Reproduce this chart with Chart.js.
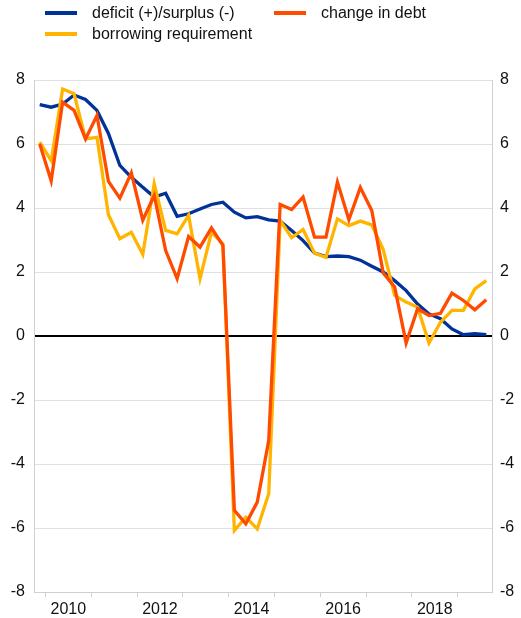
<!DOCTYPE html>
<html>
<head>
<meta charset="utf-8">
<script src="https://cdn.jsdelivr.net/npm/chart.js@4/dist/chart.umd.min.js"></script>
<style>
  html, body { margin:0; padding:0; background:#fff; }
  #wrap { position:relative; width:521px; height:618px; font-family:"Liberation Sans", Arial, sans-serif; }
  #chart { position:absolute; left:0; top:0; }
  .leg { position:absolute; font-size:16px; color:#111; white-space:nowrap; line-height:18px; }
  .leg i { position:absolute; left:-47px; top:7px; width:32px; height:4px; }
</style>
</head>
<body>
<div id="wrap">
  <canvas id="chart" width="521" height="618"></canvas>
  <div class="leg" style="left:92px;top:4px"><i style="background:#003299"></i>deficit (+)/surplus (-)</div>
  <div class="leg" style="left:321px;top:4px"><i style="background:#ff4b00"></i>change in debt</div>
  <div class="leg" style="left:92px;top:25px"><i style="background:#ffb400"></i>borrowing requirement</div>
</div>
<script>
// quarterly observations, 2009Q4 - 2019Q3
const quarters = [];
for (let y = 2009; y <= 2019; y++) {
  for (let q = 1; q <= 4; q++) {
    if ((y === 2009 && q < 4) || (y === 2019 && q > 3)) continue;
    quarters.push(y + 'Q' + q);
  }
}

const deficit = [7.23,7.15,7.25,7.53,7.39,7.05,6.33,5.33,4.96,4.65,
                 4.34,4.46,3.74,3.82,3.97,4.11,4.18,3.87,3.69,3.73,
                 3.63,3.59,3.30,2.98,2.59,2.48,2.50,2.48,2.37,2.18,
                 2.00,1.73,1.42,1.00,0.69,0.54,0.22,0.04,0.07,0.04];

const debtChange = [6.00,4.85,7.31,7.05,6.16,6.89,4.83,4.31,5.10,3.62,
                    4.39,2.67,1.79,3.11,2.78,3.38,2.83,-5.45,-5.87,-5.19,
                    -3.27,4.11,3.95,4.34,3.09,3.09,4.81,3.63,4.64,3.92,
                    1.97,1.53,-0.22,0.85,0.64,0.71,1.34,1.11,0.82,1.13];

const borrowing = [6.06,5.48,7.72,7.57,6.16,6.21,3.79,3.04,3.24,2.55,
                   4.76,3.30,3.19,3.77,1.79,3.24,2.88,-6.08,-5.66,-6.03,
                   -4.93,3.61,3.07,3.33,2.59,2.46,3.66,3.45,3.59,3.47,
                   2.70,1.27,1.06,0.90,-0.22,0.43,0.80,0.80,1.47,1.73];

const yearLabels = [2010, 2012, 2014, 2016, 2018];

// quarter -> position in years (mid-quarter)
const qx = quarters.map(s => +s.slice(0,4) + (+s.slice(5) - 0.5) / 4);
const pts = arr => arr.map((v, i) => ({ x: qx[i], y: v }));

const ds = (label, data, color) => ({
  label, data: pts(data), borderColor: color, backgroundColor: color,
  borderWidth: 3.3, pointRadius: 0, tension: 0, fill: false, borderJoinStyle: 'miter'
});

const font = { family: 'Liberation Sans, Arial', size: 16 };
const yTicks = { font, color: '#111', stepSize: 2 };
const yGrid = {
  drawTicks: false,
  color: c => c.tick && c.tick.value === 0 ? '#000' : '#e0e0e0',
  lineWidth: c => c.tick && c.tick.value === 0 ? 2 : 1
};

new Chart(document.getElementById('chart'), {
  type: 'line',
  data: {
    datasets: [
      ds('change in debt', debtChange, '#ff4b00'),
      ds('borrowing requirement', borrowing, '#ffb400'),
      ds('deficit (+)/surplus (-)', deficit, '#003299')
    ]
  },
  options: {
    responsive: false,
    animation: false,
    layout: { padding: { top: 80, left: 0, right: 0, bottom: 0 } },
    plugins: { legend: { display: false }, tooltip: { enabled: false } },
    scales: {
      x: {
        type: 'linear',
        min: 2009.75, max: 2019.75,
        afterBuildTicks: ax => {
          const t = [];
          for (let y = 2010; y <= 2019; y++) t.push({ value: y });
          yearLabels.forEach(y => t.push({ value: y + 0.5 }));
          ax.ticks = t;
        },
        afterFit: ax => { ax.height = 26; },
        ticks: {
          autoSkip: false, maxRotation: 0, padding: 3,
          font, color: '#111',
          callback: v => (v % 1 === 0.5 ? String(v - 0.5) : '')
        },
        grid: {
          drawOnChartArea: false, tickLength: 5,
          color: c => c.tick && c.tick.value % 1 === 0 ? '#d0d0d0' : 'rgba(0,0,0,0)'
        },
        border: { color: '#d0d0d0' }
      },
      y: {
        position: 'left', min: -8, max: 8,
        afterFit: ax => { ax.width = 34; },
        ticks: Object.assign({ padding: 9 }, yTicks),
        grid: yGrid,
        border: { color: '#d0d0d0' }
      },
      y2: {
        position: 'right', min: -8, max: 8,
        afterFit: ax => { ax.width = 29; },
        ticks: Object.assign({ padding: 8 }, yTicks),
        grid: { display: false, drawTicks: false },
        border: { color: '#d0d0d0' }
      }
    }
  }
});
</script>
</body>
</html>
